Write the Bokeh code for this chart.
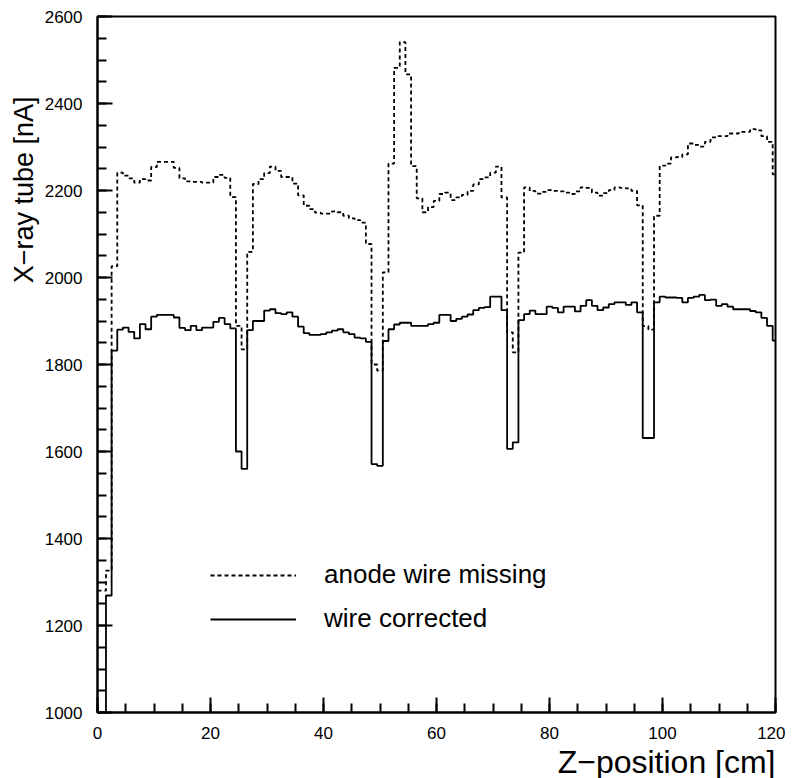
import numpy as np
from bokeh.plotting import figure
from bokeh.models import (Range1d, SingleIntervalTicker, Title, Legend, LegendItem,
                          ColumnDataSource)
from bokeh.embed import file_html
from bokeh.resources import INLINE

# Z-position bin centres (cm), 1 cm bins
z_pos = list(range(0, 121))

# X-ray tube current [nA], "anode wire missing" (dashed)
wire_missing = [
    1280, 1280, 1326, 2026, 2241, 2234, 2228, 2218, 2226, 2223,
    2254, 2266, 2266, 2266, 2252, 2228, 2221, 2220, 2220, 2218,
    2218, 2231, 2236, 2229, 2185, 1889, 1835, 2059, 2215, 2226,
    2240, 2255, 2245, 2231, 2231, 2216, 2189, 2165, 2157, 2149,
    2147, 2147, 2152, 2150, 2142, 2136, 2132, 2126, 2077, 1800,
    1786, 2012, 2262, 2482, 2541, 2467, 2256, 2182, 2150, 2162,
    2176, 2192, 2195, 2178, 2184, 2190, 2199, 2214, 2226, 2230,
    2241, 2255, 2184, 1874, 1828, 2057, 2207, 2199, 2193, 2197,
    2201, 2199, 2198, 2195, 2192, 2198, 2207, 2206, 2195, 2188,
    2194, 2201, 2207, 2206, 2205, 2199, 2166, 1888, 1880, 2142,
    2257, 2262, 2276, 2277, 2283, 2308, 2305, 2301, 2312, 2322,
    2325, 2325, 2331, 2331, 2335, 2335, 2341, 2338, 2325, 2312,
    2237,
]

# X-ray tube current [nA], "wire corrected" (solid)
wire_corrected = [
    0, 0, 1269, 1832, 1880, 1885, 1875, 1860, 1893, 1881,
    1910, 1914, 1914, 1914, 1908, 1884, 1879, 1889, 1879, 1885,
    1885, 1898, 1907, 1893, 1883, 1600, 1560, 1879, 1900, 1900,
    1924, 1927, 1918, 1916, 1920, 1910, 1887, 1872, 1868, 1868,
    1870, 1874, 1878, 1881, 1874, 1870, 1862, 1860, 1852, 1571,
    1567, 1854, 1881, 1892, 1896, 1896, 1889, 1889, 1889, 1893,
    1896, 1914, 1914, 1900, 1905, 1910, 1915, 1925, 1930, 1932,
    1956, 1956, 1925, 1606, 1621, 1902, 1916, 1924, 1916, 1916,
    1933, 1930, 1920, 1933, 1933, 1922, 1935, 1948, 1935, 1925,
    1931, 1939, 1943, 1943, 1937, 1943, 1920, 1631, 1631, 1943,
    1956, 1954, 1954, 1953, 1943, 1953, 1956, 1960, 1948, 1949,
    1935, 1939, 1933, 1927, 1927, 1927, 1923, 1920, 1907, 1889,
    1855,
]

labels = ["anode wire missing", "wire corrected"]

FONT = "Liberation Sans"

p = figure(frame_width=678, frame_height=696,
           x_range=Range1d(0, 120), y_range=Range1d(1000, 2600),
           output_backend="svg", toolbar_location=None,
           min_border_left=97, min_border_top=16, min_border_right=10,
           min_border_bottom=60)

p.grid.visible = False
p.background_fill_color = "white"
p.border_fill_color = "white"
p.outline_line_color = "black"
p.outline_line_width = 2

src = ColumnDataSource(dict(z=z_pos, miss=wire_missing, corr=wire_corrected))
r_miss = p.step("z", "miss", source=src, mode="center", line_color="black",
                line_width=1.8, line_dash="4 3")
r_corr = p.step("z", "corr", source=src, mode="center", line_color="black",
                line_width=1.8)

legend = Legend(items=[LegendItem(label=labels[0], renderers=[r_miss]),
                       LegendItem(label=labels[1], renderers=[r_corr])],
                location=(113, 78), glyph_width=86, glyph_height=20,
                label_standoff=28, spacing=13, padding=0, margin=0,
                border_line_alpha=0, background_fill_alpha=0,
                label_text_font=FONT, label_text_font_size="26px",
                label_text_color="black")
p.add_layout(legend)

for ax in (p.xaxis[0], p.yaxis[0]):
    ax.axis_line_width = 2
    ax.axis_line_color = "black"
    ax.major_tick_in = 15
    ax.major_tick_out = 0
    ax.minor_tick_in = 9
    ax.minor_tick_out = 0
    ax.major_tick_line_width = 2
    ax.minor_tick_line_width = 2
    ax.major_tick_line_color = "black"
    ax.minor_tick_line_color = "black"
    ax.major_label_text_font = FONT
    ax.major_label_text_font_size = "17px"
    ax.major_label_text_color = "black"

p.xaxis[0].ticker = SingleIntervalTicker(interval=20, num_minor_ticks=4)
p.yaxis[0].ticker = SingleIntervalTicker(interval=200, num_minor_ticks=4)
p.xaxis[0].major_label_standoff = 14
p.yaxis[0].major_label_standoff = 15

xt = Title(text="Z\u2212position [cm]", align="right", text_font=FONT,
           text_font_size="32px", text_font_style="normal", text_color="black",
           standoff=0)
p.add_layout(xt, "below")
yt = Title(text="X\u2212ray tube [nA]", align="right", text_font=FONT,
           text_font_size="27px", text_font_style="normal", text_color="black",
           standoff=6, offset=80)
p.add_layout(yt, "left")

open("out.html", "w").write(file_html(p, INLINE))
